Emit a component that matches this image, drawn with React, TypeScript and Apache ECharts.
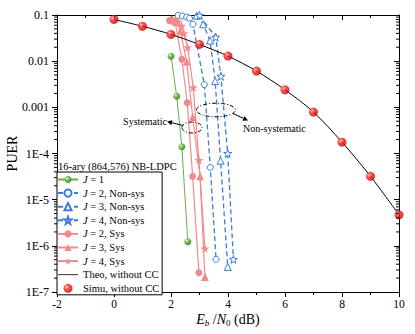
import React, { useEffect, useRef } from 'react';
import * as echarts from 'echarts';

const FONT = "'Liberation Serif', 'Times New Roman', Times, serif";

// x range and y range
const xMin = -2;
const xMax = 10;
const yMin = 1e-7;
const yMax = 0.1;

// Theoretical / simulated without CC
const simuX = [0, 1, 2, 3, 4, 5, 6, 7, 8, 9, 10];
const simuY = [0.08, 0.057, 0.038, 0.023, 0.0129, 0.0061, 0.0024, 7.9e-4, 1.76e-4, 3.2e-5, 4.7e-6];
const theoX = [0, 1, 2, 3, 4, 5, 6, 7, 8, 9, 10];
const theoY = [0.08, 0.057, 0.038, 0.023, 0.0129, 0.0061, 0.0024, 7.9e-4, 1.76e-4, 3.2e-5, 4.7e-6];

// J = 1
const j1X = [2.0, 2.2, 2.38, 2.59];
const j1Y = [0.0128, 0.00174, 1.4e-4, 1.23e-6];

// Systematic
const j2SysX = [1.95, 2.05, 2.15, 2.38, 2.57, 2.76, 2.98];
const j2SysY = [0.077, 0.074, 0.068, 0.011, 0.00126, 3.2e-5, 2.6e-7];
const j3SysX = [2.0, 2.1, 2.2, 2.33, 2.55, 2.76, 3.02, 3.19];
const j3SysY = [0.079, 0.076, 0.07, 0.045, 0.0097, 6.2e-4, 3.2e-5, 2.1e-7];
const j4SysX = [2.05, 2.15, 2.25, 2.37, 2.45, 2.585, 2.78, 2.98, 3.19];
const j4SysY = [0.08, 0.077, 0.072, 0.058, 0.04, 0.02, 0.0027, 7.2e-5, 8.7e-7];

// Non-systematic
const j2NonX = [2.25, 2.4, 2.55, 2.65, 2.77, 3.17, 3.38, 3.58];
const j2NonY = [0.098, 0.095, 0.09, 0.085, 0.063, 0.0031, 5e-5, 5.1e-7];
const j3NonX = [2.9, 3.13, 3.37, 3.55, 3.74, 3.99];
const j3NonY = [0.097, 0.063, 0.028, 0.0037, 7e-5, 3.5e-7];
const j4NonX = [3.0, 3.57, 3.75, 3.99, 4.19];
const j4NonY = [0.098, 0.033, 0.0047, 1.0e-4, 5.1e-7];

const xTickInterval = 2;
const minorMantissas = [2, 3, 4, 5, 6, 7, 8, 9];
const decades = [-7, -6, -5, -4, -3, -2];

const seriesNames = [
  'J = 1',
  'J = 2, Non-sys',
  'J = 3, Non-sys',
  'J = 4, Non-sys',
  'J = 2, Sys',
  'J = 3, Sys',
  'J = 4, Sys',
  'Theo, without CC',
  'Simu, without CC',
];

const BLUE = '#3b7dd8';
const PINK = '#f28a8c';
const GREEN = '#6ab04c';
const STAR = 'path://M50,0 L61.8,33.8 L97.6,34.5 L69,56.2 L79.4,90.5 L50,70 L20.6,90.5 L31,56.2 L2.4,34.5 L38.2,33.8 Z';
const LINE_ICON = 'path://M0,0 L40,0 L40,1.6 L0,1.6 Z';

const zip = (xs: number[], ys: number[]) => xs.map((x, i) => [x, ys[i]]);

const sphere = (light: string, mid: string, dark: string) => ({
  type: 'radial',
  x: 0.35,
  y: 0.35,
  r: 0.75,
  colorStops: [
    { offset: 0, color: light },
    { offset: 0.35, color: mid },
    { offset: 1, color: dark },
  ],
});

function arrow(x1: number, y1: number, x2: number, y2: number) {
  const dx = x2 - x1;
  const dy = y2 - y1;
  const len = Math.sqrt(dx * dx + dy * dy);
  const ux = dx / len;
  const uy = dy / len;
  const hl = 5;
  const hw = 2.5;
  const bx = x2 - hl * ux;
  const by = y2 - hl * uy;
  const nx = -uy;
  const ny = ux;
  return [
    {
      type: 'line',
      shape: { x1, y1, x2: bx, y2: by },
      style: { stroke: '#000', lineWidth: 1 },
    },
    {
      type: 'polygon',
      shape: {
        points: [
          [x2, y2],
          [bx + hw * nx, by + hw * ny],
          [bx - hw * nx, by - hw * ny],
        ],
      },
      style: { fill: '#000' },
    },
  ];
}

export default function App() {
  const ref = useRef<HTMLDivElement>(null);

  useEffect(() => {
    if (!ref.current) return;
    const chart = echarts.init(ref.current, undefined, { renderer: 'svg' });

    const minorVals: number[][] = [];
    decades.forEach((e) => {
      minorMantissas.forEach((m) => {
        minorVals.push([xMin, m * Math.pow(10, e)]);
      });
    });

    const axisLineStyle = { color: '#000', width: 1 };
    const legendFont = 10.5;

    const option: any = {
      animation: false,
      backgroundColor: '#fff',
      grid: {
        left: 57,
        right: 16,
        top: 15,
        bottom: 42,
        containLabel: false,
        outerBoundsMode: 'none',
      },
      xAxis: [
        {
          type: 'value',
          min: xMin,
          max: xMax,
          interval: xTickInterval,
          position: 'bottom',
          axisLine: { show: true, onZero: false, lineStyle: axisLineStyle },
          axisTick: { show: true, inside: false, length: 5, lineStyle: axisLineStyle },
          minorTick: { show: true, splitNumber: 2, length: 3, lineStyle: axisLineStyle },
          splitLine: { show: false },
          axisLabel: { color: '#000', fontFamily: FONT, fontSize: 11.5, margin: 6 },
          name: '{i|E}{sb|b}{n| /}{i|N}{s0|0}{n| (dB)}',
          nameLocation: 'middle',
          nameGap: 19,
          nameMoveOverlap: false,
          nameTextStyle: {
            color: '#000',
            fontFamily: FONT,
            fontSize: 14,
            rich: {
              i: { fontFamily: FONT, fontSize: 14, fontStyle: 'italic', color: '#000' },
              n: { fontFamily: FONT, fontSize: 14, color: '#000' },
              sb: { fontFamily: FONT, fontSize: 9, fontStyle: 'italic', color: '#000', padding: [7, 0, 0, 0], verticalAlign: 'bottom' },
              s0: { fontFamily: FONT, fontSize: 9, color: '#000', padding: [7, 0, 0, 0], verticalAlign: 'bottom' },
            },
          },
        },
        {
          type: 'value',
          min: xMin,
          max: xMax,
          interval: xTickInterval,
          position: 'top',
          axisLine: { show: true, onZero: false, lineStyle: axisLineStyle },
          axisTick: { show: true, inside: true, length: 5, lineStyle: axisLineStyle },
          minorTick: { show: true, splitNumber: 2, length: 3, lineStyle: axisLineStyle },
          splitLine: { show: false },
          axisLabel: { show: false },
        },
      ],
      yAxis: [
        {
          type: 'log',
          logBase: 10,
          min: yMin,
          max: yMax,
          splitNumber: 6,
          position: 'left',
          axisLine: { show: true, onZero: false, lineStyle: axisLineStyle },
          axisTick: { show: true, inside: false, length: 5, lineStyle: axisLineStyle },
          splitLine: { show: false },
          axisLabel: {
            color: '#000',
            fontFamily: FONT,
            fontSize: 12,
            margin: 8,
            formatter: (v: number) => {
              const e = Math.round(Math.log10(v));
              if (e === -1) return '0.1';
              if (e === -2) return '0.01';
              if (e === -3) return '0.001';
              return '1E' + e;
            },
          },
          name: 'PUER',
          nameLocation: 'middle',
          nameRotate: 90,
          nameGap: 38,
          nameMoveOverlap: false,
          nameTextStyle: { color: '#000', fontFamily: FONT, fontSize: 14 },
        },
        {
          type: 'log',
          logBase: 10,
          min: yMin,
          max: yMax,
          splitNumber: 6,
          position: 'right',
          axisLine: { show: true, onZero: false, lineStyle: axisLineStyle },
          axisTick: { show: true, inside: true, length: 5, lineStyle: axisLineStyle },
          splitLine: { show: false },
          axisLabel: { show: false },
        },
      ],
      legend: {
        data: seriesNames.map((n) =>
          n === 'Theo, without CC' ? { name: n, icon: LINE_ICON } : { name: n }
        ),
        orient: 'vertical',
        left: 57,
        top: 172,
        itemWidth: 20,
        itemHeight: 9,
        itemGap: 2.6,
        padding: [2, 3, 1, 0],
        borderColor: '#000',
        borderWidth: 1,
        backgroundColor: '#fff',
        textStyle: {
          color: '#000',
          fontFamily: FONT,
          fontSize: legendFont,
          lineHeight: 9,
          rich: {
            i: { fontFamily: FONT, fontSize: legendFont, fontStyle: 'italic', color: '#000', lineHeight: 9 },
            t: { fontFamily: FONT, fontSize: legendFont, color: '#000', lineHeight: 9 },
          },
        },
        formatter: (name: string) =>
          name.startsWith('J') ? '{i|J}{t|' + name.slice(1) + '}' : name,
      },
      graphic: [
        {
          type: 'text',
          x: 58,
          y: 166,
          style: { text: '16-ary (864,576) NB-LDPC', fill: '#000', font: `10.5px ${FONT}`, align: 'left', verticalAlign: 'middle' },
          z: 100,
        },
        {
          type: 'text',
          x: 167,
          y: 121,
          style: { text: 'Systematic', fill: '#000', font: `10px ${FONT}`, align: 'right', verticalAlign: 'middle' },
          z: 100,
        },
        {
          type: 'text',
          x: 243,
          y: 128,
          style: { text: 'Non-systematic', fill: '#000', font: `10px ${FONT}`, align: 'left', verticalAlign: 'middle' },
          z: 100,
        },
        {
          type: 'ellipse',
          shape: { cx: 192, cy: 127.5, rx: 10, ry: 5.5 },
          style: { fill: 'none', stroke: '#000', lineWidth: 1, lineDash: [4, 2, 1, 2] },
          z: 100,
        },
        {
          type: 'ellipse',
          shape: { cx: 216, cy: 110, rx: 19.5, ry: 6.8 },
          style: { fill: 'none', stroke: '#000', lineWidth: 1, lineDash: [4, 2, 1, 2] },
          z: 100,
        },
        ...arrow(183, 125.5, 167, 121.5).map((g) => ({ ...g, z: 100 })),
        ...arrow(233, 113.5, 248, 120.5).map((g) => ({ ...g, z: 100 })),
      ],
      series: [
        {
          name: 'J = 1',
          type: 'line',
          data: zip(j1X, j1Y),
          symbol: 'circle',
          symbolSize: 7,
          lineStyle: { color: GREEN, width: 1 },
          itemStyle: { color: sphere('#e8f7e0', '#7cc05c', '#3f8a2a') },
          z: 3,
        },
        {
          name: 'J = 2, Non-sys',
          type: 'line',
          data: zip(j2NonX, j2NonY),
          symbol: 'circle',
          symbolSize: 6,
          lineStyle: { color: BLUE, width: 1.3, type: [5, 3] },
          itemStyle: { color: '#fff', borderColor: BLUE, borderWidth: 1 },
          z: 2,
        },
        {
          name: 'J = 3, Non-sys',
          type: 'line',
          data: zip(j3NonX, j3NonY),
          symbol: 'triangle',
          symbolSize: 7,
          lineStyle: { color: BLUE, width: 1.3, type: [5, 3] },
          itemStyle: { color: '#fff', borderColor: BLUE, borderWidth: 1 },
          z: 2,
        },
        {
          name: 'J = 4, Non-sys',
          type: 'line',
          data: zip(j4NonX, j4NonY),
          symbol: STAR,
          symbolSize: 8,
          lineStyle: { color: BLUE, width: 1.3, type: [5, 3] },
          itemStyle: { color: '#fff', borderColor: BLUE, borderWidth: 1 },
          z: 2,
        },
        {
          name: 'J = 2, Sys',
          type: 'line',
          data: zip(j2SysX, j2SysY),
          symbol: 'circle',
          symbolSize: 7,
          lineStyle: { color: PINK, width: 1.2 },
          itemStyle: { color: PINK },
          z: 3,
        },
        {
          name: 'J = 3, Sys',
          type: 'line',
          data: zip(j3SysX, j3SysY),
          symbol: 'triangle',
          symbolSize: 8,
          lineStyle: { color: PINK, width: 1.2 },
          itemStyle: { color: PINK },
          z: 3,
        },
        {
          name: 'J = 4, Sys',
          type: 'line',
          data: zip(j4SysX, j4SysY),
          symbol: STAR,
          symbolSize: 9,
          lineStyle: { color: PINK, width: 1.2 },
          itemStyle: { color: PINK },
          z: 3,
        },
        {
          name: 'Theo, without CC',
          type: 'line',
          data: zip(theoX, theoY),
          showSymbol: false,
          symbol: 'none',
          smooth: 0.3,
          lineStyle: { color: '#000', width: 1 },
          itemStyle: { color: '#000' },
          z: 4,
        },
        {
          name: 'Simu, without CC',
          type: 'scatter',
          data: zip(simuX, simuY),
          symbol: 'circle',
          symbolSize: 9,
          itemStyle: { color: sphere('#ffd0d0', '#ff2020', '#b00000') },
          z: 5,
        },
        {
          name: 'minorTicks',
          type: 'custom',
          silent: true,
          clip: false,
          data: minorVals,
          renderItem: (_p: any, api: any) => {
            const v = api.value(1);
            const pl = api.coord([xMin, v]);
            const pr = api.coord([xMax, v]);
            return {
              type: 'group',
              children: [
                { type: 'line', shape: { x1: pl[0] - 3, y1: pl[1], x2: pl[0], y2: pl[1] }, style: { stroke: '#000', lineWidth: 1 } },
                { type: 'line', shape: { x1: pr[0] - 3, y1: pr[1], x2: pr[0], y2: pr[1] }, style: { stroke: '#000', lineWidth: 1 } },
              ],
            };
          },
          z: 6,
        },
      ],
    };

    chart.setOption(option);
    return () => chart.dispose();
  }, []);

  return (
    <div
      ref={ref}
      style={{ position: 'fixed', left: 0, top: 0, width: 415, height: 334, background: '#fff' }}
    />
  );
}
